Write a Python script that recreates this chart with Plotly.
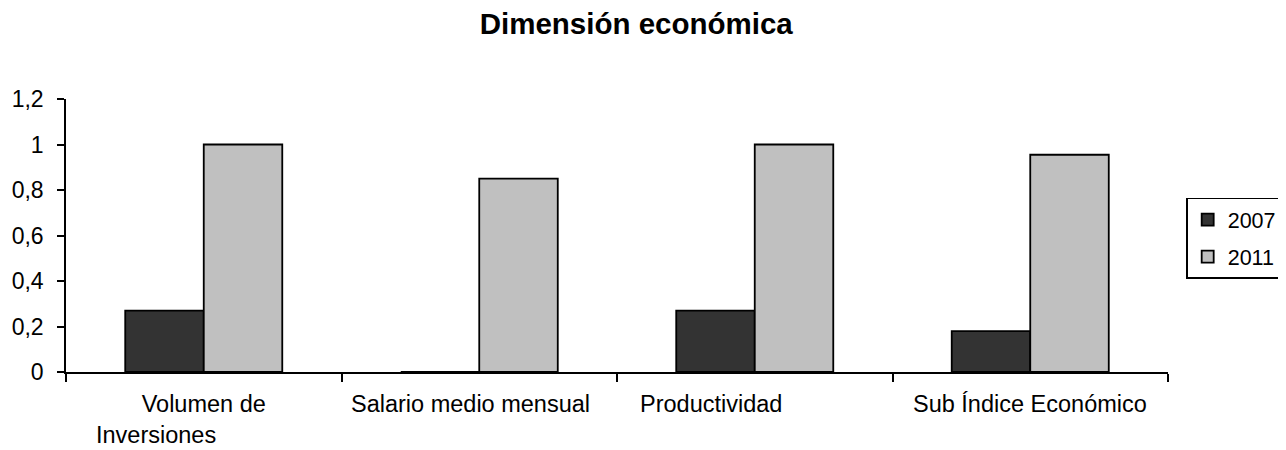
import plotly.graph_objects as go

title = "Dimensión económica"
categories = ["Volumen de Inversiones", "Salario medio mensual", "Productividad", "Sub Índice Económico"]
series_names = ["2007", "2011"]
values_2007 = [0.27, 0.0, 0.27, 0.18]
values_2011 = [1.0, 0.85, 1.0, 0.955]
y_ticks = [0, 0.2, 0.4, 0.6, 0.8, 1.0, 1.2]

FONT = "Liberation Sans, Arial, sans-serif"
NB = "\u00a0"
x_idx = list(range(len(categories)))

# displayed label text (first label wraps as in the original)
label_text = [NB * 7 + "Volumen de<br>Inversiones", categories[1], categories[2], categories[3]]

fig = go.Figure()
fig.add_trace(go.Bar(x=x_idx, y=values_2007, name=series_names[0], legendgroup="g1",
                     marker=dict(color="#333333", line=dict(color="black", width=1.8))))
fig.add_trace(go.Bar(x=x_idx, y=values_2011, name=series_names[1], legendgroup="g2",
                     marker=dict(color="#C0C0C0", line=dict(color="black", width=1.8))))

# label placement (offsets in category units)
label_dx = [-0.395, -0.03, -0.16, 0.0]
label_anchor = ["left", "center", "center", "center"]
annotations = []
for i, t in enumerate(label_text):
    annotations.append(dict(x=x_idx[i] + label_dx[i], xref="x", y=0, yref="paper",
                            yanchor="top", xanchor=label_anchor[i], align="left",
                            text=t, showarrow=False, yshift=-18, borderpad=0,
                            font=dict(family=FONT, size=23.5, color="black")))

fig.update_layout(
    width=1286, height=442,
    margin=dict(l=58, r=126, t=91, b=78, autoexpand=False),
    paper_bgcolor="white", plot_bgcolor="white",
    separators=",.",
    barmode="group", bargap=0.43, bargroupgap=0,
    title=dict(text="<b>" + title + "</b>", x=0.4885, xref="container", xanchor="center",
               y=0.965, yanchor="middle",
               font=dict(family=FONT, size=29.5, color="black")),
    font=dict(family=FONT, size=23, color="black"),
    showlegend=True,
    legend=dict(x=1.0165, xanchor="left", y=0.49, yanchor="middle",
                bordercolor="black", borderwidth=1.5, bgcolor="white",
                font=dict(family=FONT, size=21.5, color="black"),
                itemwidth=30, tracegroupgap=6),
    annotations=annotations,
    xaxis=dict(range=[-0.5, 3.5], tickmode="array", tickvals=[-0.5, 0.5, 1.5, 2.5, 3.5],
               showticklabels=False, ticks="outside", ticklen=8, tickcolor="black", tickwidth=1.5,
               automargin=False,
               showline=True, linecolor="black", linewidth=1.5, showgrid=False, zeroline=False),
    yaxis=dict(range=[0, 1.2], tickmode="array", tickvals=y_ticks, automargin=False,
               ticks="outside", ticklen=7, tickcolor="black", tickwidth=1.5, ticklabelstandoff=9,
               showline=True, linecolor="black", linewidth=1.5, showgrid=False, zeroline=False,
               tickfont=dict(family=FONT, size=23, color="black")),
)

fig.write_html("out.html")
